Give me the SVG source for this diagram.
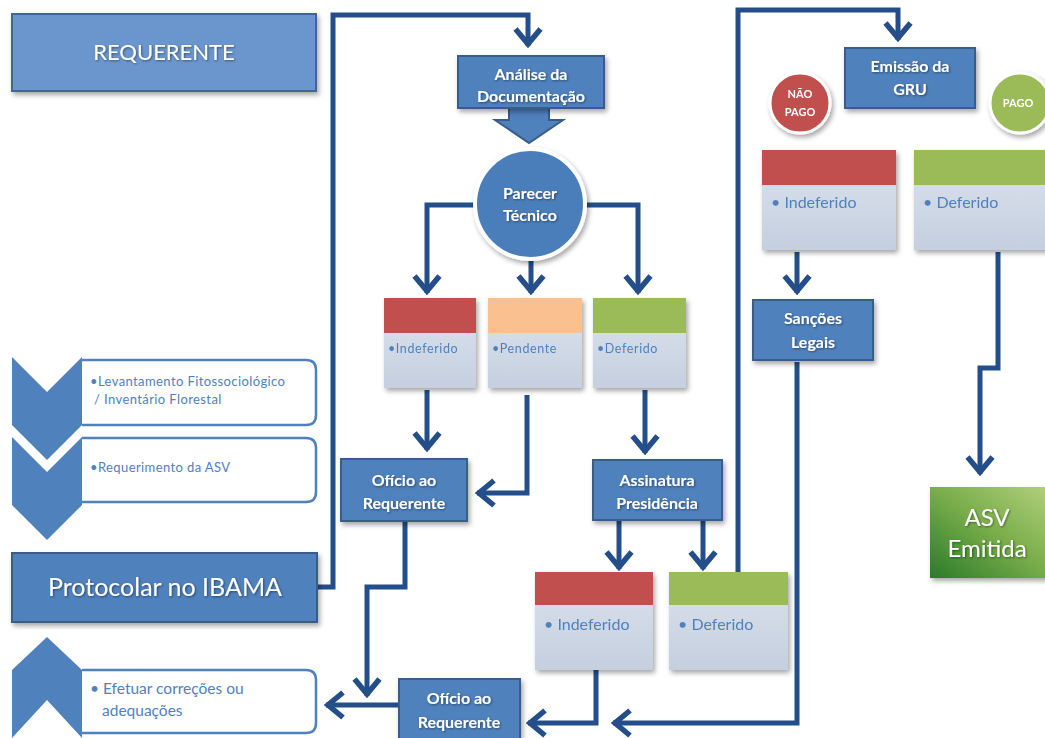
<svg xmlns="http://www.w3.org/2000/svg" width="1045" height="738" viewBox="0 0 1045 738">
<defs>
<style>
.bx{fill:#4f81bd;stroke:#385d8a;stroke-width:2}
.lt{font-family:Lato,"Open Sans","Liberation Sans",sans-serif;fill:#fff;text-anchor:middle;font-weight:bold;font-size:16px}
.ct{font-family:Lato,"Open Sans","Liberation Sans",sans-serif;fill:#4f81bd;font-size:16px}
.cs{font-family:Lato,"Open Sans","Liberation Sans",sans-serif;fill:#4f81bd;font-size:12.5px;letter-spacing:0.6px}
.lb{font-family:Lato,"Open Sans","Liberation Sans",sans-serif;fill:#4f81bd;font-size:13px;letter-spacing:0.4px}
.cn{fill:none;stroke:#234e8a;stroke-width:5;marker-end:url(#ah)}
.chev{fill:#4f81bd}
.lbox{fill:#fff;stroke:#4f81bd;stroke-width:2.5}
.grey{fill:url(#gg)}
</style>
<linearGradient id="gg" x1="0" y1="0" x2="0" y2="1"><stop offset="0" stop-color="#d4dce8"/><stop offset="1" stop-color="#c5cfdf"/></linearGradient>
<linearGradient id="asv" x1="1" y1="0" x2="0" y2="1"><stop offset="0" stop-color="#b5d27c"/><stop offset="0.5" stop-color="#78ad4a"/><stop offset="1" stop-color="#2b7a2a"/></linearGradient>
<filter id="sh" x="-20%" y="-20%" width="150%" height="160%"><feDropShadow dx="2" dy="3" stdDeviation="2.5" flood-color="#000" flood-opacity="0.35"/></filter>
<filter id="ts" x="-10%" y="-30%" width="120%" height="160%"><feDropShadow dx="1" dy="1" stdDeviation="1" flood-color="#000" flood-opacity="0.45"/></filter>
<marker id="ah" markerUnits="userSpaceOnUse" viewBox="-22 -17 24 34" markerWidth="24" markerHeight="34" refX="0" refY="0" orient="auto">
<path d="M-17,-12.5 L-2,0 L-17,12.5" fill="none" stroke="#234e8a" stroke-width="5.5"/>
</marker>
</defs>
<rect width="1045" height="738" fill="#fff"/>

<g id="connectors">
<path class="cn" d="M316,587 H333 V15 H528 V46"/>
<polygon points="509,106 549,106 549,120 563,120 529,143 495,120 509,120" fill="#4f81bd" stroke="#385d8a" stroke-width="2"/>
<path class="cn" d="M475,205 H427 V293"/>
<path class="cn" d="M585,205 H638 V293"/>
<path class="cn" d="M531,259 V293"/>
<path class="cn" d="M427,390 V450"/>
<path class="cn" d="M527,395 V493 H477"/>
<path class="cn" d="M645,390 V453"/>
<path class="cn" d="M619,521 V569"/>
<path class="cn" d="M703,521 V569"/>
<path class="cn" d="M738,572 V10 H898 V40"/>
<path class="cn" d="M405,521 V587 H367 V696"/>
<path class="cn" d="M399,705 H326"/>
<path class="cn" d="M596,670 V723 H528"/>
<path class="cn" d="M797,362 V723 H613"/>
<path class="cn" d="M797,252 V293"/>
<path class="cn" d="M998,252 V368 H980 V474"/>
</g>

<g id="requerente" filter="url(#sh)">
<rect x="12" y="14" width="304" height="77" fill="#6a96cd" stroke="#41659a" stroke-width="2"/>
<text x="164" y="60" class="lt" style="font-size:22px;font-weight:normal" filter="url(#ts)">REQUERENTE</text>
</g>

<g id="levantamento">
<path class="lbox" d="M82,360 H306 Q316,360 316,370 V415 Q316,425 306,425 H82"/>
<polygon class="chev" points="12,357 47,392 82,357 82,425 47,460 12,425"/>
<text x="90" y="386" class="lb">•Levantamento  Fitossociológico</text>
<text x="94" y="404" class="lb">/ Inventário Florestal</text>
</g>

<g id="requerimento">
<path class="lbox" d="M82,438 H306 Q316,438 316,448 V492 Q316,502 306,502 H82"/>
<polygon class="chev" points="12,437 47,472 82,437 82,505 47,540 12,505"/>
<text x="90" y="472" class="lb">•Requerimento da ASV</text>
</g>

<g id="protocolar" filter="url(#sh)">
<rect x="12" y="553" width="305" height="69" class="bx"/>
<text x="165" y="596" class="lt" style="font-size:25px;font-weight:normal" filter="url(#ts)">Protocolar no IBAMA</text>
</g>

<g id="efetuar">
<path class="lbox" d="M82,670 H306 Q316,670 316,680 V723 Q316,733 306,733 H82"/>
<polygon class="chev" points="12,670 47,637 82,670 82,738 47,700 12,738"/>
<text x="90" y="694" class="ct" style="font-size:15.5px">• Efetuar correções  ou</text>
<text x="102" y="716" class="ct" style="font-size:15.5px">adequações</text>
</g>

<g id="analise" filter="url(#sh)">
<rect x="458" y="56" width="146" height="52" class="bx"/>
<text x="531" y="80" class="lt" filter="url(#ts)">Análise da</text>
<text x="531" y="102" class="lt" filter="url(#ts)">Documentação</text>
</g>

<g id="parecer" filter="url(#sh)">
<circle cx="530" cy="204" r="55" fill="#4a7ebb" stroke="#fff" stroke-width="4"/>
<text x="530" y="199" class="lt" filter="url(#ts)">Parecer</text>
<text x="530" y="221" class="lt" filter="url(#ts)">Técnico</text>
</g>

<g id="card-indeferido-1" filter="url(#sh)">
<rect x="384" y="333" width="92" height="55" class="grey"/>
<rect x="384" y="298" width="92" height="35" fill="#c0504d"/>
<text x="388" y="353" class="cs">•Indeferido</text>
</g>
<g id="card-pendente" filter="url(#sh)">
<rect x="488" y="333" width="94" height="55" class="grey"/>
<rect x="488" y="298" width="94" height="35" fill="#fac090"/>
<text x="492" y="353" class="cs">•Pendente</text>
</g>
<g id="card-deferido-1" filter="url(#sh)">
<rect x="593" y="333" width="93" height="55" class="grey"/>
<rect x="593" y="298" width="93" height="35" fill="#9bbb59"/>
<text x="597" y="353" class="cs">•Deferido</text>
</g>

<g id="oficio-1" filter="url(#sh)">
<rect x="341" y="459" width="126" height="62" class="bx"/>
<text x="404" y="486" class="lt" filter="url(#ts)">Ofício ao</text>
<text x="404" y="509" class="lt" filter="url(#ts)">Requerente</text>
</g>

<g id="assinatura" filter="url(#sh)">
<rect x="593" y="460" width="129" height="60" class="bx"/>
<text x="657" y="486" class="lt" filter="url(#ts)">Assinatura</text>
<text x="657" y="509" class="lt" filter="url(#ts)">Presidência</text>
</g>

<g id="card-indeferido-2" filter="url(#sh)">
<rect x="535" y="605" width="118" height="65" class="grey"/>
<rect x="535" y="572" width="118" height="33" fill="#c0504d"/>
<text x="544" y="630" class="ct">• Indeferido</text>
</g>
<g id="card-deferido-2" filter="url(#sh)">
<rect x="669" y="605" width="119" height="65" class="grey"/>
<rect x="669" y="572" width="119" height="33" fill="#9bbb59"/>
<text x="678" y="630" class="ct">• Deferido</text>
</g>

<g id="oficio-2" filter="url(#sh)">
<rect x="399" y="679" width="121" height="64" class="bx"/>
<text x="459" y="704" class="lt" filter="url(#ts)">Ofício ao</text>
<text x="459" y="728" class="lt" filter="url(#ts)">Requerente</text>
</g>

<g id="emissao" filter="url(#sh)">
<rect x="845" y="48" width="130" height="60" class="bx"/>
<text x="910" y="72" class="lt" filter="url(#ts)">Emissão da</text>
<text x="910" y="95" class="lt" filter="url(#ts)">GRU</text>
</g>

<g id="nao-pago" filter="url(#sh)">
<circle cx="800" cy="103" r="30" fill="#c0504d" stroke="#fff" stroke-width="3"/>
<text x="800" y="98" class="lt" style="font-size:11px">NÃO</text>
<text x="800" y="116" class="lt" style="font-size:11px">PAGO</text>
</g>

<g id="pago" filter="url(#sh)">
<circle cx="1020" cy="103" r="30" fill="#9bbb59" stroke="#fff" stroke-width="3"/>
<text x="1018" y="107" class="lt" style="font-size:11px">PAGO</text>
</g>

<g id="card-indeferido-3" filter="url(#sh)">
<rect x="762" y="185" width="134" height="65" class="grey"/>
<rect x="762" y="150" width="134" height="35" fill="#c0504d"/>
<text x="771" y="208" class="ct">• Indeferido</text>
</g>
<g id="card-deferido-3" filter="url(#sh)">
<rect x="914" y="185" width="140" height="65" class="grey"/>
<rect x="914" y="150" width="140" height="35" fill="#9bbb59"/>
<text x="923" y="208" class="ct">• Deferido</text>
</g>

<g id="sancoes" filter="url(#sh)">
<rect x="753" y="300" width="120" height="60" class="bx"/>
<text x="813" y="324" class="lt" filter="url(#ts)">Sanções</text>
<text x="813" y="348" class="lt" filter="url(#ts)">Legais</text>
</g>

<g id="asv-emitida" filter="url(#sh)">
<rect x="930" y="487" width="125" height="91" fill="url(#asv)"/>
<text x="987" y="526" class="lt" style="font-size:24px;font-weight:normal" filter="url(#ts)">ASV</text>
<text x="987" y="557" class="lt" style="font-size:24px;font-weight:normal" filter="url(#ts)">Emitida</text>
</g>
</svg>
